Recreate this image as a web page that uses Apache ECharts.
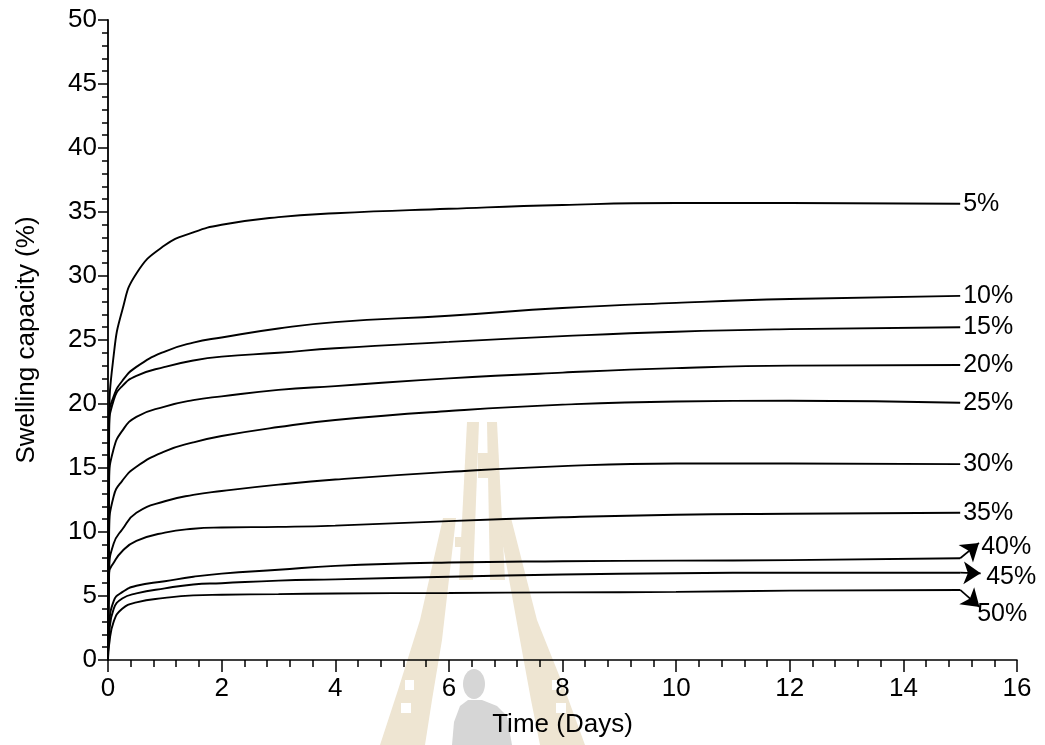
<!DOCTYPE html>
<html>
<head>
<meta charset="utf-8">
<script src="https://cdn.jsdelivr.net/npm/echarts@6/dist/echarts.min.js"></script>
<style>
  html, body { margin: 0; padding: 0; background: #ffffff; }
  #chart { width: 1045px; height: 745px; }
</style>
</head>
<body>
<div id="chart"></div>
<script>
// Sampling times (days)
const days = [0, 0.02, 0.1, 0.25, 0.5, 1, 1.5, 2, 3, 4, 6, 8, 10, 12, 15];

// Swelling capacity (%) for each filler content
const swell5  = [0, 18.5, 23.8, 27.3, 30.2, 32.4, 33.4, 34.0, 34.6, 34.9, 35.25, 35.55, 35.7, 35.7, 35.65];
const swell10 = [0, 19.0, 20.6, 21.8, 22.9, 24.1, 24.8, 25.2, 25.9, 26.4, 26.9, 27.5, 27.9, 28.2, 28.45];
const swell15 = [0, 18.0, 20.3, 21.4, 22.2, 22.9, 23.4, 23.7, 24.0, 24.35, 24.85, 25.3, 25.65, 25.85, 26.0];
const swell20 = [0, 14.0, 16.5, 17.9, 19.0, 19.8, 20.3, 20.6, 21.1, 21.4, 22.0, 22.45, 22.8, 23.0, 23.05];
const swell25 = [0, 10.0, 12.8, 14.0, 15.1, 16.3, 17.0, 17.5, 18.2, 18.75, 19.45, 19.95, 20.2, 20.25, 20.1];
const swell30 = [0, 7.0, 9.1, 10.2, 11.5, 12.4, 12.9, 13.2, 13.7, 14.1, 14.7, 15.15, 15.35, 15.35, 15.3];
const swell35 = [0, 6.8, 7.6, 8.5, 9.3, 9.95, 10.25, 10.35, 10.4, 10.5, 10.85, 11.15, 11.35, 11.42, 11.5];
const swell40 = [0, 2.5, 4.6, 5.3, 5.8, 6.15, 6.5, 6.75, 7.05, 7.35, 7.62, 7.72, 7.76, 7.8, 7.95];
const swell45 = [0, 2.0, 4.0, 4.8, 5.2, 5.6, 5.9, 6.0, 6.2, 6.3, 6.5, 6.68, 6.78, 6.82, 6.82];
const swell50 = [0, 1.2, 3.0, 4.0, 4.5, 4.85, 5.05, 5.1, 5.15, 5.2, 5.24, 5.28, 5.32, 5.42, 5.47];

const seriesNames = ['5%', '10%', '15%', '20%', '25%', '30%', '35%', '40%', '45%', '50%'];
const seriesValues = [swell5, swell10, swell15, swell20, swell25, swell30, swell35, swell40, swell45, swell50];

// Arrow tips (days, %) pointing from the curve end to its label
const arrowTips = { '40%': [15.33, 9.15], '45%': [15.36, 6.77], '50%': [15.34, 4.15] };

const FONT = "'Liberation Sans', Arial, sans-serif";
const INK = '#000000';

// label nudges for the arrowed curves
const labelOffsets = { '40%': [18, -11], '45%': [23, 4], '50%': [14, 24] };

const series = seriesNames.map(function (name, i) {
  const vals = seriesValues[i];
  const pts = days.map(function (t, k) { return [t, vals[k]]; });
  const s = {
    name: name,
    type: 'line',
    data: pts,
    smooth: 0.5,
    showSymbol: false,
    symbol: 'none',
    color: INK,
    lineStyle: { color: INK, width: 1.9 },
    endLabel: {
      show: true,
      formatter: name,
      color: INK,
      fontFamily: FONT,
      fontSize: 25,
      distance: 3,
      offset: labelOffsets[name] || [0, 0]
    },
    z: 3
  };
  if (arrowTips[name]) {
    const last = pts[pts.length - 1];
    s.markLine = {
      silent: true,
      symbol: ['none', 'arrow'],
      symbolSize: 17,
      label: { show: false },
      itemStyle: { color: INK },
      lineStyle: { color: INK, width: 1.7, type: 'solid' },
      emphasis: { disabled: true },
      data: [[{ coord: last }, { coord: arrowTips[name] }]]
    };
  }
  return s;
});

// faint tower emblem in the background
const BEIGE = '#eee5d2';
const GREY = '#d6d6d6';
function poly(points, fill) {
  return { type: 'polygon', z: -10, shape: { points: points }, style: { fill: fill } };
}
function rect(x, y, w, h, fill) {
  return { type: 'rect', z: -9, shape: { x: x, y: y, width: w, height: h }, style: { fill: fill } };
}
const emblem = [
  // inner pair of posts
  poly([[467, 422], [479, 422], [473, 580], [459, 580]], BEIGE),
  poly([[487, 422], [497, 422], [505, 580], [490, 580]], BEIGE),
  rect(478, 453, 10, 25, BEIGE),
  // outer legs
  poly([[443, 518], [456, 518], [442, 640], [432, 700], [425, 745], [380, 745], [398, 690], [420, 620]], BEIGE),
  poly([[498, 518], [511, 518], [537, 620], [565, 690], [585, 745], [540, 745], [531, 700], [520, 640]], BEIGE),
  rect(455, 537, 8, 10, BEIGE),
  rect(497, 537, 8, 10, BEIGE),
  // openings in the ladders
  rect(405, 680, 9, 10, '#ffffff'),
  rect(401, 703, 10, 10, '#ffffff'),
  rect(552, 680, 9, 10, '#ffffff'),
  rect(556, 703, 10, 10, '#ffffff'),
  // seated figure
  { type: 'ellipse', z: -8, shape: { cx: 474, cy: 684, rx: 11, ry: 15 }, style: { fill: GREY } },
  poly([[452, 745], [454, 722], [460, 706], [468, 700], [482, 700], [497, 706], [507, 716], [512, 745]], GREY)
];

const chart = echarts.init(document.getElementById('chart'), null, { renderer: 'canvas' });
chart.setOption({
  animation: false,
  backgroundColor: '#ffffff',
  graphic: { elements: emblem },
  grid: { left: 108, right: 28, top: 20, bottom: 85, containLabel: false },
  xAxis: {
    type: 'value',
    min: 0, max: 16, interval: 2,
    name: 'Time (Days)',
    nameLocation: 'middle',
    nameGap: 52,
    nameTextStyle: { color: INK, fontFamily: FONT, fontSize: 26 },
    axisLine: { show: true, onZero: false, lineStyle: { color: INK, width: 1.5 } },
    axisTick: { show: true, inside: false, length: 12, lineStyle: { color: INK, width: 1.5 } },
    minorTick: { show: true, splitNumber: 5, length: 7, lineStyle: { color: INK, width: 1.5 } },
    axisLabel: { color: INK, fontFamily: FONT, fontSize: 26, margin: 16 },
    splitLine: { show: false }
  },
  yAxis: {
    type: 'value',
    min: 0, max: 50, interval: 5,
    name: 'Swelling capacity (%)',
    nameLocation: 'middle',
    nameGap: 68,
    nameTextStyle: { color: INK, fontFamily: FONT, fontSize: 26 },
    axisLine: { show: true, onZero: false, lineStyle: { color: INK, width: 1.8 } },
    axisTick: { show: true, inside: false, length: 10, lineStyle: { color: INK, width: 1.5 } },
    minorTick: { show: true, splitNumber: 5, length: 6, lineStyle: { color: INK, width: 1.5 } },
    axisLabel: { color: INK, fontFamily: FONT, fontSize: 26, margin: 11 },
    splitLine: { show: false }
  },
  series: series
});
</script>
</body>
</html>
